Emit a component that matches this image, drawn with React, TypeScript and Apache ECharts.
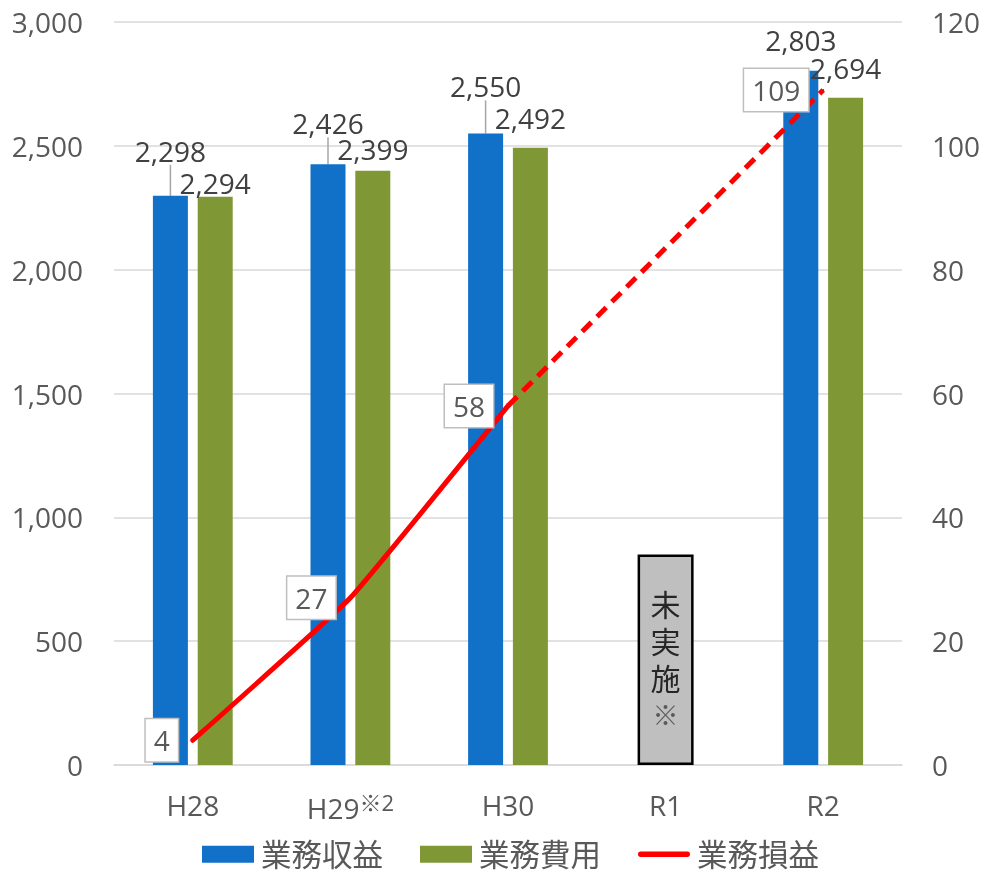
import React, { useEffect, useRef } from 'react';
import * as echarts from 'echarts';

const categories = ['H28', 'H29', 'H30', 'R1', 'R2'];
const revenue = [2298, 2426, 2550, null, 2803];
const expense = [2294, 2399, 2492, null, 2694];
const profitActual = [4, 27, 58, null, null];
const profitProjected = [null, null, 58, null, 109];
const notImplemented = [null, null, null, 850, null];
const revenueLabelLift = [-26, -22, -28, 0, -12];
const expenseLabelLift = [5, -3, -11, 0, -11];

const FONT = "'Open Sans', 'Noto Sans CJK JP', sans-serif";
const GRAY = '#595959';

export default function App() {
  const ref = useRef<HTMLDivElement>(null);
  useEffect(() => {
    if (!ref.current) return;
    const chart = echarts.init(ref.current, null, { renderer: 'svg' });
    const lineLabel = {
      show: true,
      position: 'left',
      distance: 14,
      fontSize: 28,
      fontFamily: FONT,
      color: GRAY,
      backgroundColor: '#ffffff',
      borderColor: '#bfbfbf',
      borderWidth: 1.5,
      padding: [8, 8, 6, 8],
    };
    const barLabel = {
      show: true,
      position: 'top',
      distance: 5,
      fontSize: 28,
      color: '#404040',
      fontFamily: FONT,
      formatter: (p: any) => (p.value == null ? '' : Number(p.value).toLocaleString('en-US')),
    };
    chart.setOption({
      animation: false,
      textStyle: { fontFamily: FONT },
      grid: { left: 114, right: 82, top: 22, bottom: 108, containLabel: false },
      legend: {
        top: 834,
        left: 197,
        itemWidth: 52,
        itemHeight: 17,
        itemGap: 37,
        textStyle: { fontSize: 30.5, color: GRAY, fontFamily: FONT, padding: [0, 0, 0, 2] },
        data: [
          { name: '業務収益', icon: 'rect' },
          { name: '業務費用', icon: 'rect' },
          { name: '業務損益', icon: 'path://M3,0 H53 A3,3 0 0 1 53,6 H3 A3,3 0 0 1 3,0 Z' },
        ],
      },
      xAxis: [
        {
          type: 'category',
          data: categories,
          axisTick: { show: false },
          axisLine: { lineStyle: { color: '#d9d9d9', width: 1.5 } },
          axisLabel: {
            interval: 0,
            margin: 26,
            fontSize: 28,
            color: GRAY,
            fontFamily: FONT,
            formatter: (v: string) => (v === 'H29' ? 'H29{sup|※2}' : v),
            rich: {
              sup: { fontSize: 22, color: GRAY, fontFamily: FONT, padding: [0, 0, 12, 0] },
            },
          },
        },
        { type: 'category', data: categories, show: false },
      ],
      yAxis: [
        {
          type: 'value',
          min: 0,
          max: 3000,
          interval: 500,
          axisLine: { show: false },
          axisTick: { show: false },
          splitLine: { lineStyle: { color: '#d9d9d9', width: 1.5 } },
          axisLabel: {
            margin: 31,
            fontSize: 28,
            color: GRAY,
            fontFamily: FONT,
            formatter: (v: number) => v.toLocaleString('en-US'),
          },
        },
        {
          type: 'value',
          min: 0,
          max: 120,
          interval: 20,
          axisLine: { show: false },
          axisTick: { show: false },
          splitLine: { show: false },
          axisLabel: { margin: 30, fontSize: 28, color: GRAY, fontFamily: FONT },
        },
      ],
      series: [
        {
          name: '業務収益',
          type: 'bar',
          xAxisIndex: 0,
          yAxisIndex: 0,
          barWidth: 35,
          barGap: '28%',
          data: revenue.map((v, i) => ({
            value: v,
            labelLine: { show: revenueLabelLift[i] < -15 },
          })),
          itemStyle: { color: '#1170C8' },
          label: barLabel,
          labelLayout: (p: any) => ({ dy: revenueLabelLift[p.dataIndex] }),
          labelLine: { show: true, lineStyle: { color: '#a6a6a6', width: 1.5 } },
        },
        {
          name: '業務費用',
          type: 'bar',
          xAxisIndex: 0,
          yAxisIndex: 0,
          barWidth: 35,
          barGap: '28%',
          data: expense,
          itemStyle: { color: '#7F9734' },
          label: barLabel,
          labelLayout: (p: any) => ({ dy: expenseLabelLift[p.dataIndex] }),
        },
        {
          name: '未実施',
          type: 'bar',
          xAxisIndex: 1,
          yAxisIndex: 0,
          barWidth: 56,
          data: notImplemented,
          itemStyle: { color: '#bfbfbf', borderColor: '#000000', borderWidth: 2.5 },
          label: {
            show: true,
            position: 'inside',
            formatter: '未\n実\n施\n{m|※}',
            fontSize: 30,
            lineHeight: 37,
            color: '#262626',
            fontFamily: FONT,
            rich: { m: { fontSize: 26, color: GRAY, lineHeight: 37, fontFamily: FONT } },
          },
          z: 1,
        },
        {
          name: '業務損益',
          type: 'line',
          yAxisIndex: 1,
          smooth: 0.1,
          symbol: 'circle',
          symbolSize: 2,
          data: profitActual,
          itemStyle: { color: '#ff0000' },
          lineStyle: { color: '#ff0000', width: 5, cap: 'round' },
          label: lineLabel,
          z: 5,
        },
        {
          name: '業務損益',
          type: 'line',
          yAxisIndex: 1,
          connectNulls: true,
          symbol: 'circle',
          symbolSize: 2,
          data: profitProjected.map((v, i) => (i === 2 ? { value: v, label: { show: false } } : v)),
          itemStyle: { color: '#ff0000' },
          lineStyle: { color: '#ff0000', width: 5, type: [13, 8] },
          label: lineLabel,
          z: 5,
        },
      ],
    });
    return () => chart.dispose();
  }, []);
  return (
    <div
      ref={ref}
      style={{ position: 'fixed', left: 0, top: 0, width: 984, height: 873 }}
    />
  );
}
